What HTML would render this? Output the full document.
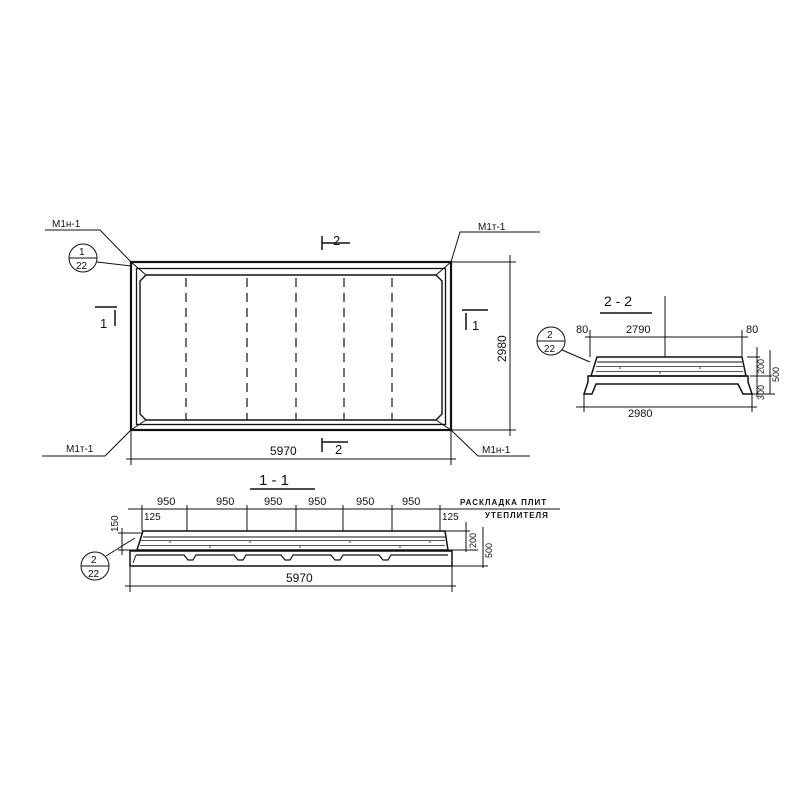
<!DOCTYPE html>
<html><head><meta charset="utf-8"><style>
html,body{margin:0;padding:0;background:#fff;width:800px;height:800px;overflow:hidden}
text{font-family:"Liberation Sans",sans-serif;fill:#111}
</style></head><body>
<svg width="800" height="800" viewBox="0 0 800 800" xmlns="http://www.w3.org/2000/svg">
<g stroke="#111" fill="none" stroke-width="1">
<!-- plan -->
<rect x="131" y="262" width="320" height="168" stroke-width="2.2"/>
<rect x="136.5" y="268.5" width="309" height="156" stroke-width="1.3"/>
<path d="M146 275 H436 L442 281 V414 L436 420 H146 L140 414 V281 Z" stroke-width="1.4"/>
<path d="M131 262 L146 275 M451 262 L436 275 M131 430 L146 420 M451 430 L436 420" stroke-width="1"/>
<g stroke-dasharray="9,6" stroke-width="1.2">
<line x1="186" y1="278" x2="186" y2="420"/><line x1="247" y1="278" x2="247" y2="420"/>
<line x1="296" y1="278" x2="296" y2="420"/><line x1="344" y1="278" x2="344" y2="420"/>
<line x1="392" y1="278" x2="392" y2="420"/>
</g>
<!-- leaders -->
<path d="M45 230 H100 L131 262"/>
<path d="M540 232 H460 L451 262"/>
<path d="M42 456 H105 L131 430"/>
<path d="M530 456 H478 L451 430"/>
<circle cx="83" cy="258" r="14"/><line x1="69" y1="258" x2="97" y2="258"/>
<line x1="97" y1="262" x2="131" y2="266"/>
<!-- dims plan -->
<line x1="126" y1="459" x2="456" y2="459"/>
<line x1="131" y1="430" x2="131" y2="465"/><line x1="451" y1="430" x2="451" y2="465"/>
<line x1="510" y1="255" x2="510" y2="436"/>
<line x1="451" y1="262" x2="516" y2="262"/><line x1="451" y1="430" x2="516" y2="430"/>
<!-- section marks -->
<path d="M322 236 V250 M322 243 H350" stroke-width="1.5"/>
<path d="M322 438 V452 M322 442 H348" stroke-width="1.5"/>
<path d="M95 307 H117 M115 310 V326" stroke-width="1.5"/>
<path d="M462 310 H488 M466 313 V330" stroke-width="1.5"/>
<!-- section 2-2 -->
<line x1="600" y1="313" x2="652" y2="313" stroke-width="1.5"/>
<line x1="585" y1="337" x2="748" y2="337"/>
<line x1="590" y1="330" x2="590" y2="357"/><line x1="742" y1="330" x2="742" y2="357"/>
<line x1="665" y1="296" x2="665" y2="357"/>
<path d="M597 357 H742 L746 376 H591 Z" stroke-width="1.5"/>
<path d="M597 362 H742" />
<path d="M588 376 H748 V382 L752 394 H743 L738 384 H596 L592 394 H584 L588 382 Z" stroke-width="1.5"/>
<line x1="576" y1="407" x2="757" y2="407"/>
<line x1="584" y1="394" x2="584" y2="412"/><line x1="752" y1="394" x2="752" y2="412"/>
<path d="M747 357 H760 M750 376 H772 M752 394 H775 M757 347 V397 M770 350 V394"/>
<circle cx="551" cy="341" r="14"/><line x1="537" y1="341" x2="565" y2="341"/>
<line x1="562" y1="350" x2="590" y2="362"/>
<!-- section 1-1 -->
<line x1="250" y1="489" x2="315" y2="489" stroke-width="1.5"/>
<line x1="128" y1="509" x2="560" y2="509"/>
<path d="M142 505 V531 M187 505 V531 M247 505 V531 M296 505 V531 M343 505 V531 M392 505 V531 M440 505 V531"/>
<path d="M143 531 H445 L448 550 H137 Z" stroke-width="1.5"/>
<path d="M143 537 H445"/>
<path d="M130 551 H452 V566 H130 Z" stroke-width="1.5"/>
<path d="M136 555 H184 L188 560 H193 L196 555 H234 L238 560 H243 L246 555 H281 L285 560 H290 L293 555 H331 L335 560 H340 L343 555 H379 L383 560 H388 L391 555 H448" stroke-width="1.2"/>
<path d="M136 555 L133 563"/>
<line x1="125" y1="586" x2="456" y2="586"/>
<line x1="130" y1="566" x2="130" y2="592"/><line x1="452" y1="566" x2="452" y2="592"/>
<path d="M445 531 H470 M448 550 H478 M452 566 H488 M466 522 V552 M483 527 V568"/>
<path d="M118 533 H143 M118 550 H137 M122 528 V555"/>
<circle cx="95" cy="566" r="14"/><line x1="81" y1="566" x2="109" y2="566"/>
<line x1="106" y1="556" x2="135" y2="538"/>
</g>
<!-- texture -->
<g fill="#555">
<rect x="140" y="540" width="305" height="1" /><rect x="140" y="545" width="305" height="1"/>
<rect x="596" y="366" width="147" height="1"/><rect x="596" y="371" width="147" height="1"/>
</g>
<g fill="#333">
<circle cx="170" cy="542" r="0.8"/><circle cx="210" cy="547" r="0.8"/><circle cx="250" cy="542" r="0.8"/><circle cx="300" cy="547" r="0.8"/><circle cx="350" cy="542" r="0.8"/><circle cx="400" cy="547" r="0.8"/><circle cx="430" cy="542" r="0.8"/>
<circle cx="620" cy="368" r="0.8"/><circle cx="660" cy="373" r="0.8"/><circle cx="700" cy="368" r="0.8"/>
</g>
<g font-size="11">
<text x="52" y="227" font-size="10">М1н-1</text>
<text x="478" y="230" font-size="10">М1т-1</text>
<text x="66" y="452" font-size="10">М1т-1</text>
<text x="482" y="453" font-size="10">М1н-1</text>
<text x="79" y="255" font-size="10">1</text><text x="76" y="269" font-size="10">22</text>
<text x="270" y="455" font-size="12">5970</text>
<text x="335" y="454" font-size="13">2</text>
<text x="333" y="245" font-size="13">2</text>
<text x="100" y="328" font-size="13">1</text>
<text x="472" y="330" font-size="13">1</text>
<text transform="translate(506,362) rotate(-90)" font-size="12">2980</text>
<text x="604" y="306" font-size="14">2 - 2</text>
<text x="626" y="333">2790</text>
<text x="576" y="333">80</text><text x="746" y="333">80</text>
<text x="628" y="417">2980</text>
<text x="547" y="338" font-size="10">2</text><text x="544" y="352" font-size="10">22</text>
<text transform="translate(764,374) rotate(-90)" font-size="9">200</text>
<text transform="translate(764,400) rotate(-90)" font-size="9">300</text>
<text transform="translate(779,382) rotate(-90)" font-size="9">500</text>
<text x="259" y="485" font-size="15">1 - 1</text>
<text x="157" y="505">950</text><text x="216" y="505">950</text><text x="264" y="505">950</text>
<text x="308" y="505">950</text><text x="356" y="505">950</text><text x="402" y="505">950</text>
<text x="460" y="505" font-size="8" font-weight="bold" letter-spacing="1">РАСКЛАДКА ПЛИТ</text>
<text x="485" y="518" font-size="8" font-weight="bold" letter-spacing="1">УТЕПЛИТЕЛЯ</text>
<text x="144" y="520" font-size="10">125</text><text x="442" y="520" font-size="10">125</text>
<text transform="translate(118,532) rotate(-90)" font-size="10">150</text>
<text transform="translate(476,548) rotate(-90)" font-size="9">200</text>
<text transform="translate(492,558) rotate(-90)" font-size="9">500</text>
<text x="286" y="582" font-size="12">5970</text>
<text x="91" y="563" font-size="10">2</text><text x="88" y="577" font-size="10">22</text>
</g>
</svg>
</body></html>
